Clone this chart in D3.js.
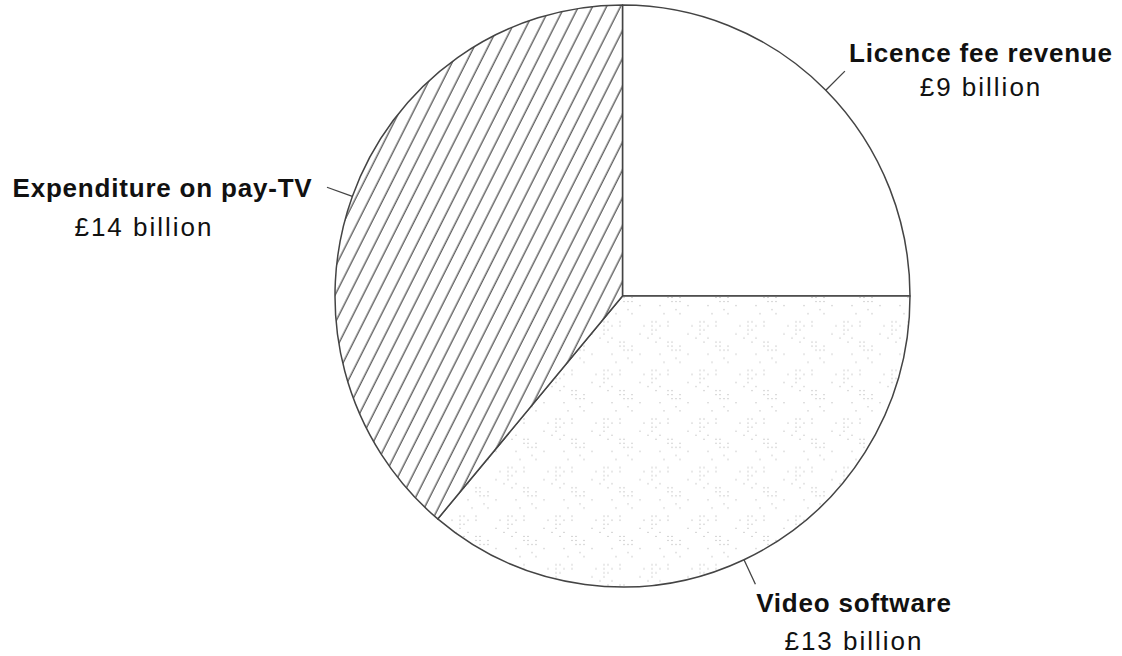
<!DOCTYPE html>
<html>
<head>
<meta charset="utf-8">
<script src="https://cdn.jsdelivr.net/npm/d3@7/dist/d3.min.js"></script>
<style>
  html, body { margin: 0; padding: 0; background: #fff; }
  svg { display: block; }
  text { font-family: "Liberation Sans", Arial, Helvetica, sans-serif; fill: #111; }
</style>
</head>
<body>
<svg id="chart" width="1122" height="656"></svg>
<script>
const categories = ["Licence fee revenue", "Video software", "Expenditure on pay-TV"];
const values = [9, 13, 14];
const valueLabels = ["£9 billion", "£13 billion", "£14 billion"];
const fills = ["url(#blank)", "url(#dots)", "url(#hatch)"];

const W = 1122, H = 656;
const cx = 622.5, cy = 296, rx = 287.5, ry = 291;

const svg = d3.select("#chart");
const defs = svg.append("defs");

defs.append("pattern").attr("id", "blank").attr("patternUnits", "userSpaceOnUse")
  .attr("width", 10).attr("height", 10)
  .append("rect").attr("width", 10).attr("height", 10).attr("fill", "#fff");

const hatch = defs.append("pattern").attr("id", "hatch").attr("patternUnits", "userSpaceOnUse")
  .attr("width", 12.5).attr("height", 12.5)
  .attr("patternTransform", "rotate(27)");
hatch.append("rect").attr("width", 12.5).attr("height", 12.5).attr("fill", "#fff");
hatch.append("line").attr("x1", 6).attr("y1", 0).attr("x2", 6).attr("y2", 12.5)
  .attr("stroke", "#5e5e5e").attr("stroke-width", 1.4);

const dots = defs.append("pattern").attr("id", "dots").attr("patternUnits", "userSpaceOnUse")
  .attr("width", 48).attr("height", 48);
dots.append("rect").attr("width", 48).attr("height", 48).attr("fill", "#fff");
const dotPts = [];
for (let gx = 0; gx < 12; gx++) {
  for (let gy = 0; gy < 12; gy++) {
    const h = ((gx * 7 + gy * 13 + gx * gy * 3) % 11);
    const clusterA = (gx < 5 && gy < 5) || (gx >= 7 && gy >= 6);
    if ((clusterA && h < 4) || (!clusterA && h < 1)) dotPts.push([gx * 4 + 1, gy * 4 + 1]);
  }
}
dots.selectAll("rect.d").data(dotPts).enter().append("rect").attr("class", "d")
  .attr("x", d => d[0]).attr("y", d => d[1]).attr("width", 1).attr("height", 1)
  .attr("fill", "#a8a8a8");

const pie = d3.pie().sort(null).value(d => d.value);
const data = categories.map((c, i) => ({ name: c, value: values[i], label: valueLabels[i], fill: fills[i] }));
const arcs = pie(data);
const arc = d3.arc().innerRadius(0).outerRadius(rx);

const g = svg.append("g").attr("transform", `translate(${cx},${cy}) scale(1,${ry / rx})`);
g.selectAll("path").data(arcs).enter().append("path")
  .attr("d", arc)
  .attr("fill", d => d.data.fill)
  .attr("stroke", "#444")
  .attr("stroke-width", 1.5)
  .attr("vector-effect", "non-scaling-stroke")
  .attr("stroke-linejoin", "round");

// leader lines
const leaderLen = 27;
arcs.forEach(a => {
  const m = (a.startAngle + a.endAngle) / 2;
  const sx = Math.sin(m), sy = -Math.cos(m);
  svg.append("line")
    .attr("x1", cx + sx * rx).attr("y1", cy + sy * ry)
    .attr("x2", cx + sx * (rx + leaderLen)).attr("y2", cy + sy * (ry + leaderLen))
    .attr("stroke", "#444").attr("stroke-width", 1.3);
});

// labels
const labelPos = [
  { x1: 981, a1: "middle", y1: 62, x2: 981, y2: 96 },
  { x1: 854, a1: "middle", y1: 612, x2: 854, y2: 650 },
  { x1: 162.5, a1: "middle", y1: 197, x2: 144, y2: 236 }
];
arcs.forEach((a, i) => {
  const p = labelPos[i];
  svg.append("text").attr("x", p.x1).attr("y", p.y1).attr("text-anchor", p.a1)
    .attr("font-size", 26).attr("font-weight", "bold").attr("letter-spacing", "0.8px")
    .text(a.data.name);
  svg.append("text").attr("x", p.x2).attr("y", p.y2).attr("text-anchor", "middle")
    .attr("font-size", 26).attr("letter-spacing", "2px")
    .text(a.data.label);
});
</script>
</body>
</html>
